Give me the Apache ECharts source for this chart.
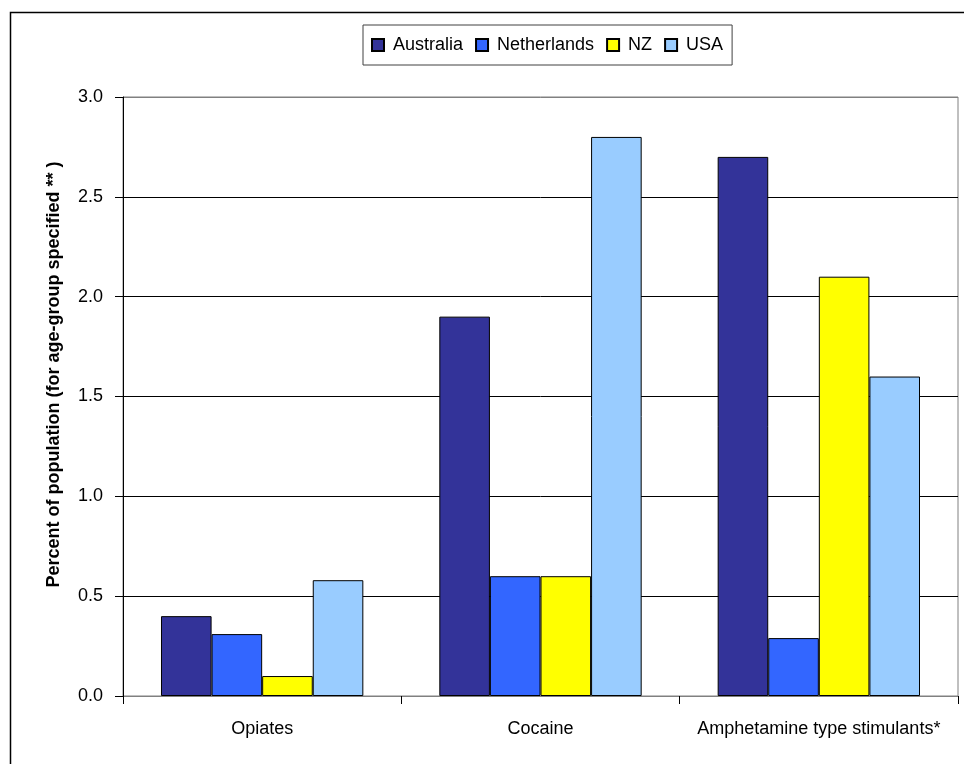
<!DOCTYPE html>
<html>
<head>
<meta charset="utf-8">
<script src="https://cdn.jsdelivr.net/npm/echarts@6/dist/echarts.min.js"></script>
<style>
html,body{margin:0;padding:0;background:#fff;}
#chart{width:964px;height:764px;}
</style>
</head>
<body>
<div id="chart"></div>
<script>
const categories = ['Opiates', 'Cocaine', 'Amphetamine type stimulants*'];
const seriesNames = ['Australia', 'Netherlands', 'NZ', 'USA'];
const australia = [0.40, 1.90, 2.70];
const netherlands = [0.31, 0.60, 0.29];
const nz = [0.10, 0.60, 2.10];
const usa = [0.58, 2.80, 1.60];
const yTicks = [0.0, 0.5, 1.0, 1.5, 2.0, 2.5, 3.0];
const colors = ['#333399', '#3366FF', '#FFFF00', '#99CCFF'];
const values = [australia, netherlands, nz, usa];

const FONT = '"Liberation Sans", Arial, sans-serif';
const chart = echarts.init(document.getElementById('chart'), null, {renderer: 'canvas'});

chart.setOption({
  animation: false,
  backgroundColor: '#fff',
  color: colors,
  textStyle: {fontFamily: FONT},
  graphic: [{
    type: 'rect',
    left: 8, top: 10,
    shape: {width: 1000, height: 800},
    style: {fill: 'none', stroke: '#000', lineWidth: 1.5},
    z: -10
  }],
  legend: {
    left: 363, top: 25,
    padding: [11, 9, 11, 8],
    borderColor: '#404040', borderWidth: 1,
    icon: 'rect',
    itemWidth: 12, itemHeight: 12, itemGap: 12,
    textStyle: {fontFamily: FONT, fontSize: 18, color: '#000', padding: [0, 0, 0, 4]},
    data: seriesNames
  },
  grid: {
    left: 123, right: 6, top: 97, bottom: 68,
    outerBoundsMode: 'none',
    containLabel: false,
    show: true, borderColor: '#808080', borderWidth: 1, backgroundColor: 'transparent'
  },
  xAxis: {
    type: 'category',
    data: categories,
    axisLine: {lineStyle: {color: '#808080', width: 1}},
    axisTick: {show: true, length: 8, lineStyle: {color: '#000'}},
    axisLabel: {fontFamily: FONT, fontSize: 18, color: '#000', margin: 24, interval: 0}
  },
  yAxis: {
    type: 'value',
    min: 0, max: 3, interval: 0.5,
    name: 'Percent of population (for age-group specified ** )',
    nameLocation: 'middle',
    nameGap: 60,
    nameTextStyle: {fontFamily: FONT, fontSize: 18, fontWeight: 'bold', color: '#000', padding: [0, 0, 0, 44]},
    axisLine: {show: true, lineStyle: {color: '#000', width: 1}},
    axisTick: {show: true, length: 8, lineStyle: {color: '#000'}},
    axisLabel: {fontFamily: FONT, fontSize: 18, color: '#000', margin: 20,
      formatter: v => v.toFixed(1)},
    splitLine: {show: true, lineStyle: {color: ['#808080', '#000', '#000', '#000', '#000', '#000', '#808080'], width: 1}}
  },
  series: seriesNames.map((name, i) => ({
    name: name,
    type: 'bar',
    data: values[i],
    barGap: '0%',
    barCategoryGap: '27.3%',
    itemStyle: {color: colors[i], borderColor: '#000', borderWidth: 1}
  }))
});
</script>
</body>
</html>
